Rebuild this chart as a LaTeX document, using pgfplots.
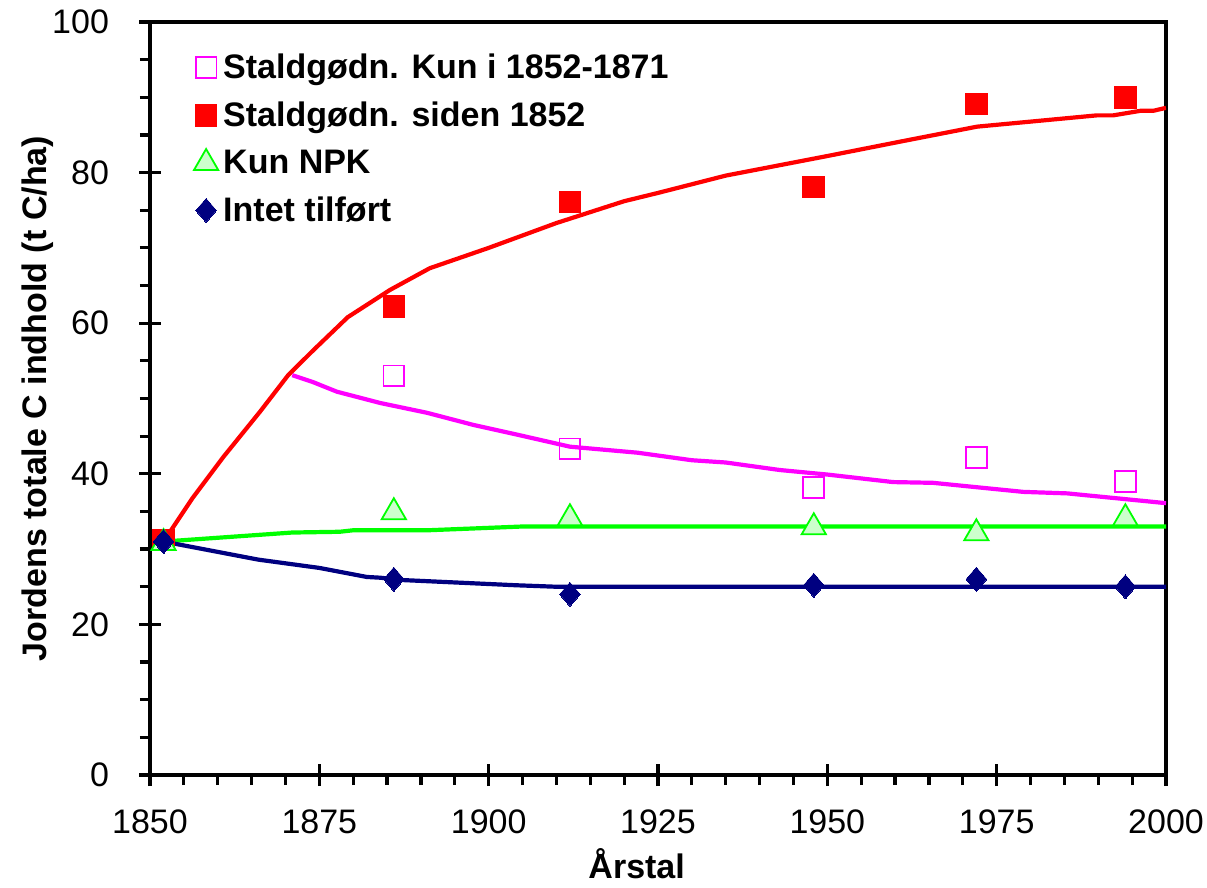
\documentclass[border=0pt]{standalone}
\usepackage{pgfplots}
\pgfplotsset{compat=1.18}
\usepackage{fontspec}
\setmainfont{Liberation Sans}
\definecolor{cred}{RGB}{255,0,0}
\definecolor{cmag}{RGB}{255,0,255}
\definecolor{cgreen}{RGB}{0,255,0}
\definecolor{cgreenfill}{RGB}{204,255,204}
\definecolor{cnavy}{RGB}{0,0,128}
\begin{document}
\begin{tikzpicture}
\begin{axis}[
  scale only axis,
  width=508pt, height=376.5pt,
  xmin=1850, xmax=2000, ymin=0, ymax=100,
  xtick={1850,1875,...,2000},
  ytick={0,20,...,100},
  minor x tick num=4,
  minor y tick num=3,
  tick pos=left,
  tick align=center,
  major tick length=11pt,
  minor tick length=5pt,
  minor x tick style={yshift=-2.5pt},
  minor y tick style={xshift=-2.5pt},
  axis line style={line width=1.6pt},
  every tick/.style={line width=1.6pt, black},
  /pgf/number format/assume math mode=true,
  /pgf/number format/1000 sep={},
  tick label style={font=\fontsize{17}{20}\selectfont},
  xticklabel style={yshift=-8.5pt},
  yticklabel style={xshift=-11.5pt},
  label style={font=\bfseries\fontsize{17}{20}\selectfont},
  xlabel={Årstal},
  ylabel={Jordens totale C indhold (t C/ha)},
  xlabel style={at={(axis description cs:0.479,0)}, anchor=base, yshift=-51.5pt},
  ylabel style={at={(axis description cs:-0.111,0.5)}, anchor=center, rotate=0},
  legend style={draw=none, fill=none, at={(0.037,0.969)}, anchor=north west,
    font=\bfseries\fontsize{17}{20}\selectfont, row sep=6.2pt,
    /tikz/every odd column/.append style={column sep=0.5pt}},
  legend cell align=left,
]
% model lines
\addplot[forget plot, cred, line width=2.1pt] coordinates {
(1852,31) (1856.3,36.8) (1860.8,42.2) (1866.2,48.2) (1870.4,53.1) (1874.1,56.4)
(1879.2,60.8) (1885.4,64.4) (1891.3,67.3) (1900,70) (1910,73.3) (1920,76.2)
(1925,77.3) (1935,79.6) (1950,82.2) (1960.7,84.1) (1972.1,86.1) (1989.8,87.6)
(1992.2,87.6) (1996.2,88.2) (1998.1,88.2) (2000,88.6)};
\addplot[forget plot, cmag, line width=2.1pt] coordinates {
(1871,53.1) (1874,52.2) (1877.6,50.9) (1884,49.4) (1890.9,48.1) (1897.7,46.5)
(1904.2,45.2) (1912,43.6) (1922,42.8) (1930,41.8) (1935,41.5) (1943,40.5)
(1950,39.9) (1959.7,38.9) (1965.6,38.8) (1978.9,37.6) (1985.4,37.4) (2000,36.1)};
\addplot[forget plot, cgreen, line width=2.1pt] coordinates {
(1852,31) (1871,32.2) (1878,32.3) (1880,32.5) (1891,32.5) (1905,33) (2000,33)};
\addplot[forget plot, cnavy, line width=2.1pt] coordinates {
(1852,31) (1866,28.6) (1875,27.5) (1882,26.3) (1884,26.2) (1887,25.9)
(1904,25.2) (1910,25) (2000,25)};
% measured points
\addplot[cmag, only marks, mark=square, mark size=5.2pt, mark options={draw=cmag, line width=0.9pt, fill=white}] coordinates {
(1886,53) (1912,43.3) (1948,38.2) (1972,42.2) (1994,39)};
\addlegendentry{Staldgødn. Kun i 1852-1871}
\addplot[cred, only marks, mark=square*, mark size=5.4pt, mark options={draw=cred, fill=cred, line width=0pt}] coordinates {
(1852,31.2) (1886,62.2) (1912,76.1) (1948,78.1) (1972,89.1) (1994,90)};
\addlegendentry{Staldgødn. siden 1852}
\addplot[cgreen, only marks, mark=triangle*, mark size=7pt, mark options={draw=cgreen, fill=cgreenfill, line width=0.9pt}] coordinates {
(1852,30.8) (1886,34.9) (1912,34.1) (1948,32.9) (1972,32.1) (1994,34.1)};
\addlegendentry{Kun NPK}
\addplot[cnavy, only marks, mark=diamond*, mark size=6pt, mark options={draw=cnavy, fill=cnavy, xscale=1.15, line width=0pt}] coordinates {
(1852,31) (1886,26) (1912,24) (1948,25.2) (1972,26) (1994,25)};
\addlegendentry{Intet tilført}
\end{axis}
\pgfresetboundingbox
\path[use as bounding box] ([shift={(-75pt,-56pt)}]current axis.south west) rectangle ([shift={(20.5pt,11pt)}]current axis.north east);
\end{tikzpicture}
\end{document}
